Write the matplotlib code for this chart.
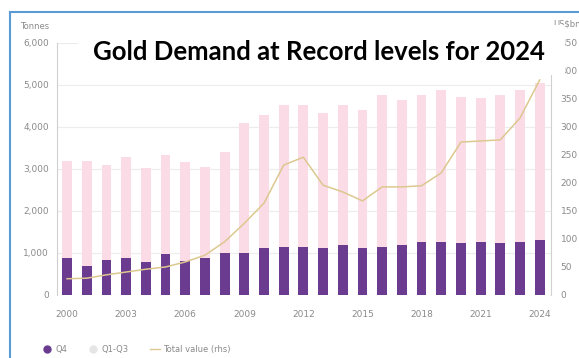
import numpy as np
import matplotlib.pyplot as plt
from matplotlib.patches import Rectangle
from matplotlib.lines import Line2D

years = list(range(2000, 2025))
q4 = [880, 690, 830, 880, 790, 980, 810, 880, 1000, 1000, 1120, 1140, 1140,
      1120, 1190, 1120, 1140, 1190, 1260, 1260, 1240, 1260, 1240, 1260, 1310]
q1_q3 = [2320, 2510, 2270, 2410, 2230, 2350, 2360, 2170, 2400, 3100, 3170, 3380, 3380,
         3210, 3330, 3280, 3620, 3450, 3500, 3620, 3470, 3430, 3520, 3620, 3730]
total_value = [29, 30, 36, 41, 46, 50, 59, 71, 95, 128, 164, 232, 246,
               196, 184, 168, 193, 193, 195, 218, 273, 275, 277, 316, 384]
xtick_years = [2000, 2003, 2006, 2009, 2012, 2015, 2018, 2021, 2024]
title = "Gold Demand at Record levels for 2024"

purple = '#6a3b8f'
pink = '#fadbe6'
tan = '#dcc88f'
grey_txt = '#8a8a8a'

fig = plt.figure(figsize=(5.79, 3.58), dpi=100)
ax = fig.add_axes([0.0985, 0.176, 0.853, 0.704])

ax.bar(years, q4, width=0.5, color=purple, zorder=3)
ax.bar(years, q1_q3, bottom=q4, width=0.5, color=pink, zorder=2)
ax.set_xlim(1999.49, 2024.57)
ax.set_ylim(0, 6000)
ax.set_yticks(range(0, 6001, 1000))
ax.set_yticklabels([f'{v:,}' for v in range(0, 6001, 1000)])
ax.set_xticks(xtick_years)
ax.grid(axis='y', color='#ececec', linewidth=0.8, zorder=0)
ax.tick_params(length=0, labelsize=6.5, labelcolor=grey_txt, pad=6)
ax.tick_params(axis='x', pad=11)
for s in ['top', 'bottom']:
    ax.spines[s].set_visible(False)
ax.spines['left'].set_color('#d0d0d0')
ax.spines['right'].set_color('#d0d0d0')

ax2 = ax.twinx()
ax2.plot(years, total_value, color=tan, linewidth=1.1, zorder=4)
ax2.set_ylim(0, 450)
ax2.set_yticks(range(0, 451, 50))
ax2.tick_params(length=0, labelsize=6.5, labelcolor=grey_txt, pad=7)
for s in ['top', 'bottom', 'left', 'right']:
    ax2.spines[s].set_visible(False)

fig.text(0.035, 0.92, 'Tonnes', fontsize=6, color=grey_txt)
fig.text(0.955, 0.925, 'US$bn', fontsize=6, color=grey_txt)

# screenshot frame
fig.add_artist(Rectangle((10 / 579, -0.05), 1.1, 1.05 - 12 / 358, transform=fig.transFigure,
                         fill=False, edgecolor='#5b9bd5', linewidth=1.5))

# title box
fig.add_artist(Rectangle((78 / 579, 1 - 75 / 358), 487 / 579, 50 / 358,
                         transform=fig.transFigure, facecolor='white', edgecolor='none', zorder=5))
fig.text(0.551, 1 - 52 / 358, title, ha='center', va='center', fontsize=18.5,
         fontweight='bold', family='Lato', zorder=6)

handles = [Line2D([], [], marker='o', linestyle='none', color=purple, markersize=5),
           Line2D([], [], marker='o', linestyle='none', color='#e6e6e6', markersize=5),
           Line2D([], [], color=tan, linewidth=1)]
fig.legend(handles, ['Q4', 'Q1-Q3', 'Total value (rhs)'], loc='lower left',
           bbox_to_anchor=(0.06, -0.01), ncol=3, frameon=False, fontsize=6,
           labelcolor=grey_txt, handlelength=1.2, columnspacing=2.5, handletextpad=0.4)

fig.savefig('out.png', dpi=100)
